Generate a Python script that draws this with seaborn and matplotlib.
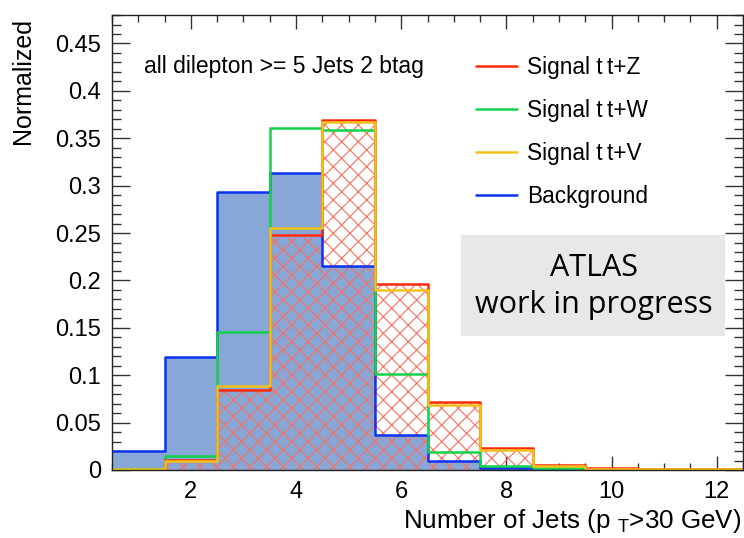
import numpy as np
import pandas as pd
import matplotlib
matplotlib.use("Agg")
import matplotlib.pyplot as plt
from matplotlib.lines import Line2D
from matplotlib.patches import Rectangle
from matplotlib.ticker import MultipleLocator
import seaborn as sns

# ---- data ----
n_jets = [1, 2, 3, 4, 5, 6, 7, 8, 9, 10, 11, 12]
bin_edges = [0.5, 1.5, 2.5, 3.5, 4.5, 5.5, 6.5, 7.5, 8.5, 9.5, 10.5, 11.5, 12.5]
background = [0.020, 0.119, 0.293, 0.313, 0.215, 0.037, 0.010, 0.002, 0.0005, 0.0003, 0.0002, 0.0001]
signal_ttW = [0.001, 0.015, 0.146, 0.361, 0.359, 0.101, 0.019, 0.0046, 0.0018, 0.0008, 0.0004, 0.0002]
signal_ttZ = [0.0005, 0.011, 0.084, 0.248, 0.369, 0.196, 0.072, 0.023, 0.005, 0.0025, 0.0012, 0.0006]
signal_ttV = [0.0008, 0.0098, 0.0885, 0.255, 0.367, 0.190, 0.0685, 0.021, 0.0046, 0.0012, 0.0010, 0.0008]
legend_labels = ["Signal t\u2009t+Z", "Signal t\u2009t+W", "Signal t\u2009t+V", "Background"]

col_bkg_fill = "#88a7d6"
col_bkg = "#0a32f5"
col_ttW = "#12d24a"
col_ttZ = "#ff2a0a"
col_ttV = "#f2c21a"
col_hatch = "#ff6e5c"

sns.set_theme(style="white")
plt.rcParams["font.family"] = ["Liberation Sans", "DejaVu Sans"]
plt.rcParams["hatch.linewidth"] = 0.8
plt.rcParams["text.color"] = "black"
plt.rcParams["xtick.labelcolor"] = "black"
plt.rcParams["ytick.labelcolor"] = "black"

df = pd.DataFrame({"n": n_jets, "bkg": background, "ttW": signal_ttW,
                   "ttZ": signal_ttZ, "ttV": signal_ttV})

fig = plt.figure(figsize=(7.44, 5.38), dpi=100)
ax = fig.add_axes([0.1505, 0.1264, 0.8482, 0.8456])

# background filled
sns.histplot(data=df, x="n", weights="bkg", bins=bin_edges, element="step",
             fill=True, color=col_bkg_fill, alpha=1.0, linewidth=0, ax=ax)
# ttZ hatched area
sns.histplot(data=df, x="n", weights="ttZ", bins=bin_edges, element="step",
             fill=True, color=col_hatch, alpha=1.0, linewidth=0, ax=ax)
hatch_coll = ax.collections[-1]
hatch_coll.set_facecolor("none")
hatch_coll.set_edgecolor(col_hatch)
hatch_coll.set_linewidth(0)
hatch_coll.set_hatch("xx")

# outlines
for col, c in [("bkg", col_bkg), ("ttW", col_ttW), ("ttZ", col_ttZ), ("ttV", col_ttV)]:
    sns.histplot(data=df, x="n", weights=col, bins=bin_edges,
                 element="step", fill=False, color=c, linewidth=1.8, ax=ax)

ax.set_xlim(0.5, 12.5)
ax.set_ylim(0, 0.48)
ax.set_xlabel("")
ax.set_ylabel("")

ax.xaxis.set_minor_locator(MultipleLocator(0.5))
ax.yaxis.set_minor_locator(MultipleLocator(0.01))
ax.set_yticks(np.arange(0, 0.451, 0.05))
ax.set_yticklabels(["0", "0.05", "0.1", "0.15", "0.2", "0.25", "0.3", "0.35", "0.4", "0.45"])
ax.set_xticks([2, 4, 6, 8, 10, 12])
ax.set_xticklabels(["2", "4", "6", "8", "10", "12"])

ax.tick_params(axis="both", which="both", direction="in", top=True, right=True,
               bottom=True, left=True, color="#333333", width=1.0, labelsize=17,
               labelcolor="black")
ax.tick_params(axis="x", which="major", length=10, pad=8)
ax.tick_params(axis="x", which="minor", length=5)
ax.tick_params(axis="y", which="major", length=13, pad=8)
ax.tick_params(axis="y", which="minor", length=6.5)
for s in ax.spines.values():
    s.set_color("#222222")
    s.set_linewidth(1.0)

# texts
ax.text(0.05, 0.888, "all dilepton >= 5 Jets 2 btag", transform=ax.transAxes,
        fontsize=16.5, ha="left", va="center", color="black")

handles = [Line2D([], [], color=c, linewidth=1.8) for c in [col_ttZ, col_ttW, col_ttV, col_bkg]]
ax.legend(handles, legend_labels, loc="upper left", bbox_to_anchor=(0.563, 0.93),
          frameon=False, fontsize=16.3, handlelength=1.8, handletextpad=0.45,
          labelspacing=0.88, borderaxespad=0, labelcolor="black")

ax.add_patch(Rectangle((0.5526, 0.294), 0.4191, 0.222, transform=ax.transAxes,
                       facecolor="#e8e8e8", edgecolor="none", zorder=3))
ax.text(0.7641, 0.443, "ATLAS", transform=ax.transAxes, ha="center", va="center",
        fontsize=22, family=["Open Sans", "DejaVu Sans"], color="black", zorder=4)
ax.text(0.7641, 0.362, "work in progress", transform=ax.transAxes, ha="center",
        va="center", fontsize=22, family=["Open Sans", "DejaVu Sans"], color="black",
        zorder=4)

fig.text(0.031, 0.967, "Normalized", rotation=90, ha="center", va="top", fontsize=18,
         color="black")
fig.text(0.996, 0.0186, r"Number of Jets (p $_{\mathregular{T}}$>30 GeV)", ha="right",
         va="baseline", fontsize=18.7, color="black")

fig.savefig("out.png", dpi=100)
